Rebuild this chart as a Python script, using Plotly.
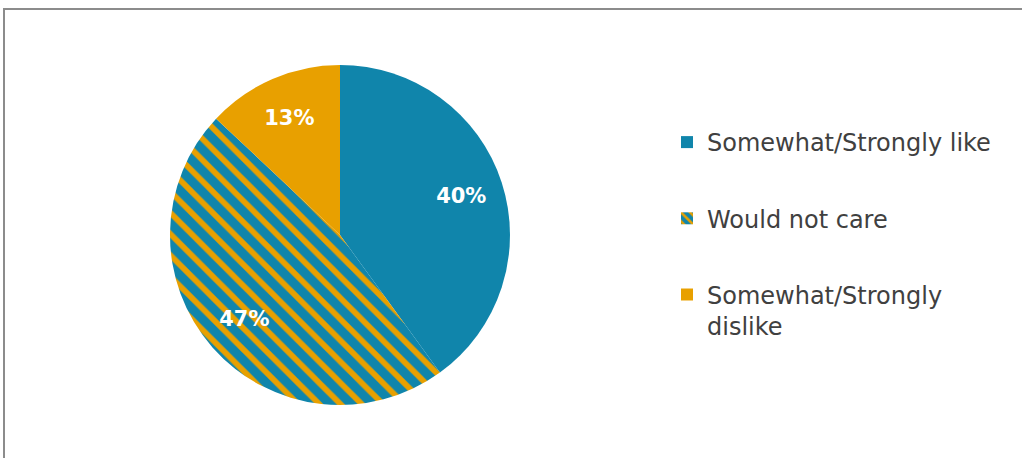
import plotly.graph_objects as go

categories = ["Somewhat/Strongly like", "Would not care", "Somewhat/Strongly dislike"]
legend_labels = ["Somewhat/Strongly like", "Would not care", "Somewhat/Strongly<br>dislike"]
values = [40, 47, 13]

BLUE = "#1085AB"
ORANGE = "#E8A000"
FONT = "Century Gothic, URW Gothic, DejaVu Sans, sans-serif"
TEXT = "#404040"

fills = [
    dict(shape="", bgcolor=BLUE, fgcolor=BLUE),
    dict(shape="\\", bgcolor=BLUE, fgcolor=ORANGE),
    dict(shape="", bgcolor=ORANGE, fgcolor=ORANGE),
]
colors = [BLUE, BLUE, ORANGE]

W, H = 1022, 458
cx, cy, r = 340, 235, 170
domain = dict(x=[(cx - r) / W, (cx + r) / W], y=[1 - (cy + r) / H, 1 - (cy - r) / H])

fig = go.Figure()
# filled pie
fig.add_trace(go.Pie(
    labels=categories,
    values=values,
    sort=False,
    direction="clockwise",
    rotation=0,
    marker=dict(
        colors=colors,
        line=dict(width=0),
        pattern=dict(
            shape=[f["shape"] for f in fills],
            bgcolor=[f["bgcolor"] for f in fills],
            fgcolor=[f["fgcolor"] for f in fills],
            size=15,
            solidity=0.38,
            fillmode="replace",
        ),
    ),
    textinfo="none",
    domain=domain,
    showlegend=False,
    hoverinfo="label+percent",
))
# transparent ring carrying the percentage labels (placed toward the rim)
fig.add_trace(go.Pie(
    labels=categories,
    values=values,
    sort=False,
    direction="clockwise",
    rotation=0,
    hole=0.5,
    marker=dict(colors=["rgba(0,0,0,0)"] * 3, line=dict(width=0)),
    texttemplate="%{percent:.0%}",
    textposition="inside",
    insidetextorientation="horizontal",
    textfont=dict(family=FONT, size=21, color="white", weight="bold"),
    domain=domain,
    showlegend=False,
    hoverinfo="skip",
))

# legend entries mirroring the slices
for i, (name, f) in enumerate(zip(legend_labels, fills)):
    pat = dict(shape=f["shape"], bgcolor=f["bgcolor"], fgcolor=f["fgcolor"], size=8, solidity=0.4, fillmode="replace")
    fig.add_trace(go.Bar(
        x=[None], y=[None], name=name,
        marker=dict(color=colors[i], pattern=pat, line=dict(width=0)),
        legendgroup=f"g{i}",
        showlegend=True,
    ))

fig.update_layout(
    width=W, height=H,
    margin=dict(l=0, r=0, t=0, b=0),
    paper_bgcolor="white",
    plot_bgcolor="white",
    xaxis=dict(visible=False),
    yaxis=dict(visible=False),
    legend=dict(
        x=667 / W, y=1 - 120 / H, xanchor="left", yanchor="top",
        font=dict(family=FONT, size=24, color=TEXT),
        tracegroupgap=42,
        traceorder="grouped",
        valign="top",
        bgcolor="rgba(0,0,0,0)",
    ),
    shapes=[dict(
        type="rect", xref="paper", yref="paper",
        x0=4 / W, x1=1.02, y0=-0.02, y1=1 - 9 / H,
        line=dict(color="#8c8c8c", width=2), fillcolor="rgba(0,0,0,0)", layer="below",
    )],
)

fig.write_html(
    "out.html",
    config={"displayModeBar": False},
    post_script="document.body.style.margin='0';",
)
